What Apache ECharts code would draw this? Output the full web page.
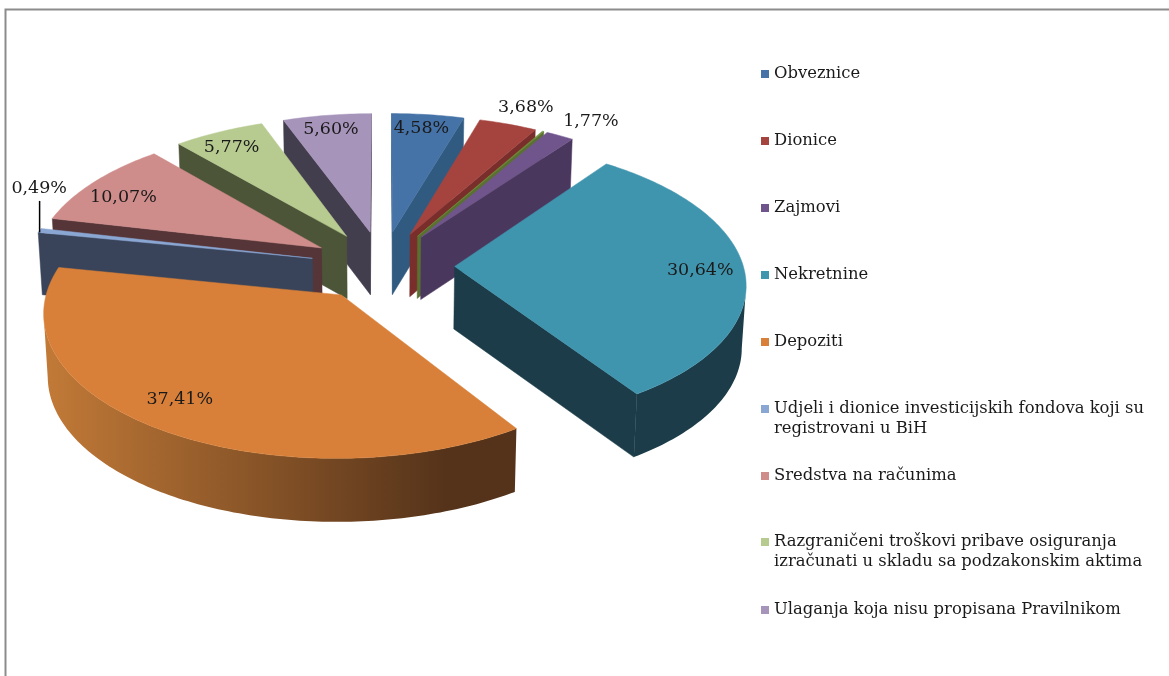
<!DOCTYPE html>
<html><head><meta charset="utf-8">
<style>html,body{margin:0;padding:0;background:#fff}#c{width:1169px;height:676px}</style>
<script src="https://cdn.jsdelivr.net/npm/echarts@6/dist/echarts.min.js"></script>
</head><body><div id="c"></div>
<script>
const names = ['Obveznice','Dionice','Ostalo','Zajmovi','Nekretnine','Depoziti',
  'Udjeli i dionice investicijskih fondova koji su\nregistrovani u BiH','Sredstva na računima',
  'Razgraničeni troškovi pribave osiguranja\nizračunati u skladu sa podzakonskim aktima',
  'Ulaganja koja nisu propisana Pravilnikom'];
const values = [4.58,3.68,0.1,1.77,30.64,37.41,0.49,10.07,5.77,5.60];
const labelled = [true,true,false,true,true,true,true,true,true,true];
const topColors = ['#4572A7','#A5443F','#6F8F3A','#70558C','#4095AE','#D88039','#8AA7D4','#CE8C8A','#B7CA90','#A794BB'];
const sideColors = ['#315A80','#7A2E2B','#5A7030','#4A375E','#1B3C48','#55331A','#39445A','#553538','#4C5538','#433E4E'];
const drawOrder = [9,0,1,2,3,8,7,6,4,5];
const legendTops = {0:64,1:131,3:198,4:265,5:332,6:379,7:466,8:512,9:600};
// label anchor: radial fraction plus a pixel nudge
const labelR = [0.8,0.8,0,0.8,0.8,0.8,0.8,0.8,0.8,0.8];
const labelNudge = [[0,-8],[36,-37],[0,0],[57,-33],[14,1],[-16,0],[-54,-47],[-14,3],[-11,-4],[-4,-7]];

const CX=382.5, CY=265.5, RX=288.5, RY=138.5, K=0.11, EXPLODE=0.25, DEPTH=62.5, BOTTOM_SCALE=0.988;
const FONT='"DejaVu Serif"';
const total = values.reduce((a,b)=>a+b,0);
const starts=[]; values.reduce((acc,v,i)=>{starts[i]=acc; return acc+v/total*2*Math.PI;},0);

function project(X,Y){
  const s=1/(1+K*Y);
  return {x:CX+RX*s*X, y:CY-RY*s*Y, s};
}
function pointOf(i,r,th){
  const m=starts[i]+values[i]/total*Math.PI;
  return project(EXPLODE*Math.sin(m)+r*Math.sin(th), EXPLODE*Math.cos(m)+r*Math.cos(th));
}
const bottom=p=>[CX+(p.x-CX)*BOTTOM_SCALE, p.y+DEPTH*(1+0.1*(p.s-1))];
const top2=p=>[p.x,p.y];

function renderSlice(i){
  return function(){
    const a0=starts[i], a1=a0+values[i]/total*2*Math.PI;
    const n=Math.max(2,Math.ceil((a1-a0)/(Math.PI/180)));
    const arc=[]; for(let k=0;k<=n;k++) arc.push(pointOf(i,1,a0+(a1-a0)*k/n));
    const tip=pointOf(i,0,a0);
    const children=[];
    const side=sideColors[i];
    const quad=(p,q,fill)=>children.push({type:'polygon',shape:{points:[top2(p),top2(q),bottom(q),bottom(p)]},style:{fill,stroke:fill,lineWidth:0.5}});
    // cut faces
    if(arc[0].x<tip.x) quad(tip,arc[0],side);
    if(tip.x<arc[n].x) quad(arc[n],tip,side);
    // outer wall: the run of arc moving left on screen
    const vis=[];
    for(let k=0;k<n;k++){ if(arc[k+1].x<arc[k].x){ if(!vis.length) vis.push(arc[k]); vis.push(arc[k+1]); } }
    if(vis.length>1){
      const pts=vis.map(top2).concat(vis.slice().reverse().map(bottom));
      const fill = i===5
        ? new echarts.graphic.LinearGradient(0,0,1,0,[{offset:0,color:'#C27A37'},{offset:0.85,color:'#55331A'},{offset:1,color:'#55331A'}])
        : side;
      children.push({type:'polygon',shape:{points:pts},style:{fill}});
    }
    // top
    const pts=[top2(tip)].concat(arc.map(top2));
    children.push({type:'polygon',shape:{points:pts},style:{fill:topColors[i],stroke:topColors[i],lineWidth:0.5}});
    return {type:'group',children};
  };
}
function renderLabel(i){
  return function(){
    const mid=starts[i]+values[i]/total*Math.PI;
    const p=pointOf(i,labelR[i],mid);
    const x=p.x+labelNudge[i][0], y=p.y+labelNudge[i][1];
    const kids=[{type:'text',x,y,style:{text:values[i].toFixed(2).replace('.',',')+'%',font:'17.5px '+FONT,fill:'#1a1a1a',align:'center',verticalAlign:'middle'}}];
    if(i===6){
      const r=pointOf(i,1,mid);
      kids.push({type:'line',shape:{x1:r.x,y1:r.y+2,x2:r.x,y2:y+12},style:{stroke:'#000',lineWidth:1.5}});
    }
    return {type:'group',children:kids};
  };
}
const series=[];
drawOrder.forEach(i=>{
  series.push({type:'custom',name:names[i],coordinateSystem:'none',silent:true,animation:false,
    itemStyle:{color:topColors[i]},data:[[values[i]]],renderItem:renderSlice(i),z:2});
});
values.forEach((v,i)=>{ if(labelled[i]) series.push({type:'custom',name:'label'+i,coordinateSystem:'none',silent:true,animation:false,
    data:[[v]],renderItem:renderLabel(i),z:5}); });
const legend=Object.keys(legendTops).map(k=>{
  const i=+k, two=names[i].includes('\n');
  return {data:[names[i]],orient:'vertical',left:761,top:legendTops[i],padding:0,itemWidth:8,itemHeight:8,
    icon:'rect',selectedMode:false,formatter:n=>two?'\n'+n:n,
    textStyle:{fontFamily:FONT,fontSize:16.4,color:'#1a1a1a',lineHeight:20}};
});
const chart=echarts.init(document.getElementById('c'),null,{renderer:'canvas'});
chart.setOption({
  animation:false,backgroundColor:'#fff',legend,series,
  graphic:[{type:'polyline',silent:true,shape:{points:[[5.5,676],[5.5,9.5],[1169,9.5]]},style:{stroke:'#8c8c8c',lineWidth:2,fill:null}}]
});
</script></body></html>
